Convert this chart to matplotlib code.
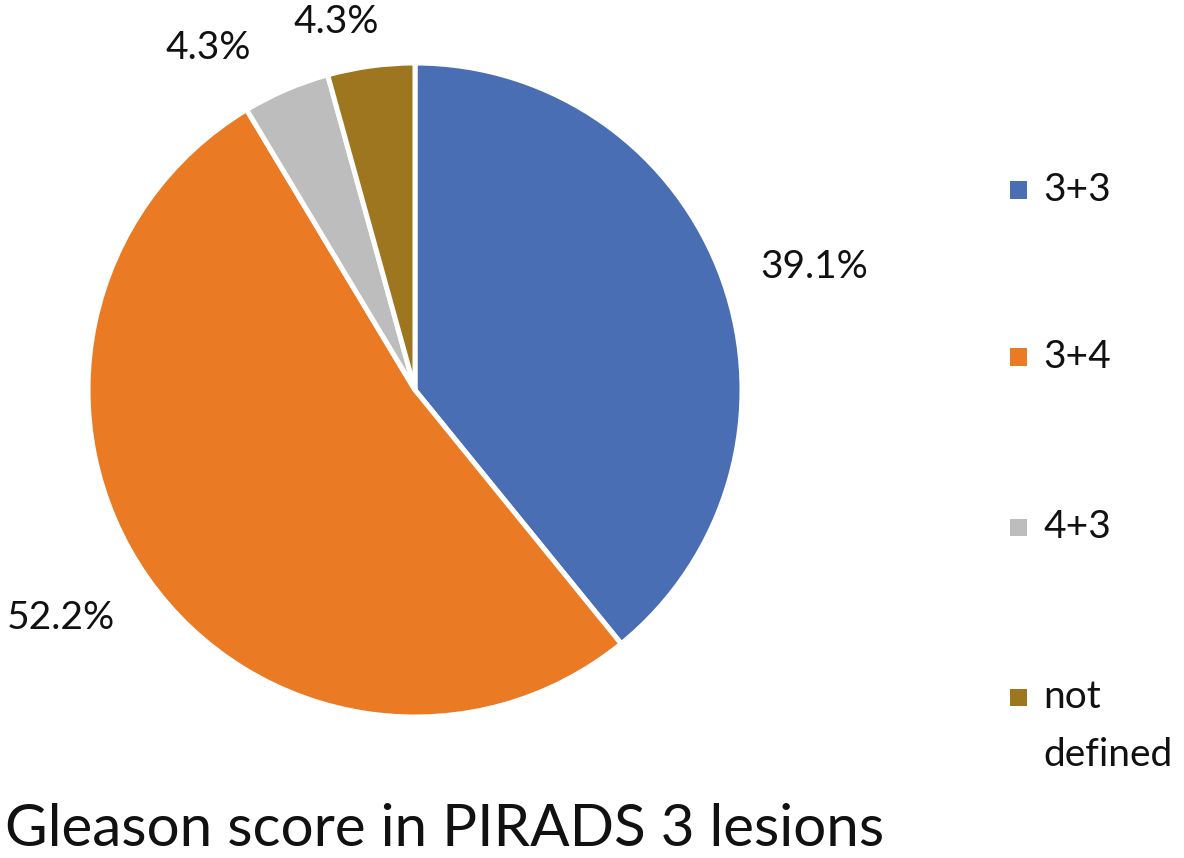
import numpy as np
import matplotlib.pyplot as plt
from matplotlib.patches import Rectangle

# data
categories = ["3+3", "3+4", "4+3", "not\ndefined"]
shares = [39.1, 52.2, 4.3, 4.3]
pct_labels = ["39.1%", "52.2%", "4.3%", "4.3%"]
colors = ["#4A6EB4", "#EA7A24", "#BDBDBD", "#9E7620"]

plt.rcParams['font.family'] = ['Lato', 'DejaVu Sans']

W, H = 1184, 858
fig = plt.figure(figsize=(W / 100, H / 100), dpi=100)

# pie centre and radius in pixels (from top-left)
cx, cy, r = 415, 390, 327
ax = fig.add_axes([(cx - r) / W, (H - cy - r) / H, 2 * r / W, 2 * r / H])
wedges, _ = ax.pie(shares, colors=colors, startangle=90, counterclock=False,
                   wedgeprops=dict(edgecolor='white', linewidth=3.6))
ax.set_xlim(-1, 1)
ax.set_ylim(-1, 1)
ax.set_aspect('equal')

# outside-end data labels
for w, lab in zip(wedges, pct_labels):
    ang = np.deg2rad((w.theta1 + w.theta2) / 2)
    c, s = np.cos(ang), np.sin(ang)
    if s > 0.9:
        # small slices at the top: labels pushed sideways, Excel style
        x, y, ha, va = 1.5 * c - 0.04, 1.08 * s, 'center', 'bottom'
    elif abs(s) < 0.5:
        x, y, ha, va = 1.12 * c, 1.12 * s, ('left' if c > 0 else 'right'), 'center'
    else:
        x, y = 1.12 * c, 1.12 * s
        ha = 'left' if c > 0 else 'right'
        va = 'bottom' if s > 0 else 'top'
    ax.text(x, y, lab, ha=ha, va=va, fontsize=28, color='#111111')

# legend drawn by hand so the marker sits next to the first line
leg_y = [190, 357, 527, 697]
for y, col, name in zip(leg_y, colors, categories):
    fig.patches.append(Rectangle((1010 / W, (H - y - 8.5) / H), 17 / W, 17 / H,
                                 transform=fig.transFigure, facecolor=col,
                                 edgecolor='none'))
    lines = name.split("\n")
    fig.text(1043 / W, (H - y) / H, lines[0], ha='left', va='center',
             fontsize=28, color='#111111')
    if len(lines) > 1:
        fig.text(1043 / W, (H - y - 58) / H, lines[1], ha='left',
                 va='center', fontsize=28, color='#111111')

fig.text(5 / W, (H - 846) / H, "Gleason score in PIRADS 3 lesions", ha='left',
         va='baseline', fontsize=42, color='#111111')

fig.savefig("out.png", dpi=100, facecolor='white')
